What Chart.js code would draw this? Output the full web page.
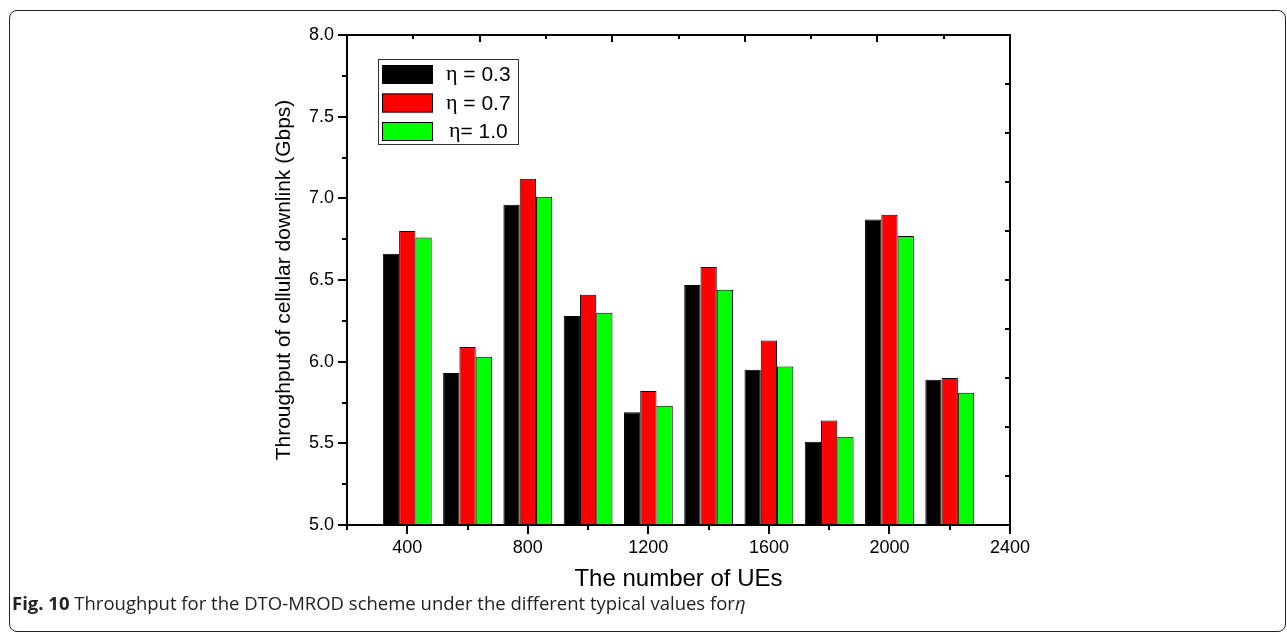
<!DOCTYPE html>
<html>
<head>
<meta charset="utf-8">
<script src="https://cdn.jsdelivr.net/npm/chart.js@4.4.0/dist/chart.umd.min.js"></script>
<style>
  html, body { margin: 0; padding: 0; background: #fff; }
  #fig { position: relative; width: 1287px; height: 634px; overflow: hidden; }
  #box {
    position: absolute; left: 9px; top: 10px; width: 1277px; height: 622px;
    border: 1.5px solid #222; border-radius: 8px; box-sizing: border-box;
  }
  #chartWrap { position: absolute; left: 0; top: 0; width: 1287px; height: 634px; }
  #caption {
    position: absolute; left: 12px; top: 590px;
    font-family: 'Open Sans', sans-serif; font-size: 18.5px; color: #222; white-space: nowrap;
  }
  #caption b { font-weight: 700; }
</style>
</head>
<body>
<div id="fig">
  <div id="box"></div>
  <div id="chartWrap"><canvas id="chart"></canvas></div>
  <div id="caption"><b>Fig. 10</b> Throughput for the DTO-MROD scheme under the different typical values for<i>η</i></div>
</div>
<script>
// number of UEs per group and downlink throughput (Gbps) for each eta
const ues = [400, 600, 800, 1000, 1200, 1400, 1600, 1800, 2000, 2200];
const eta03 = [6.66, 5.93, 6.96, 6.28, 5.69, 6.47, 5.95, 5.51, 6.87, 5.89];
const eta07 = [6.80, 6.09, 7.12, 6.41, 5.82, 6.58, 6.13, 5.64, 6.90, 5.90];
const eta10 = [6.76, 6.03, 7.01, 6.30, 5.73, 6.44, 5.97, 5.54, 6.77, 5.81];
const seriesLabels = ['η = 0.3', 'η = 0.7', 'η= 1.0'];
const seriesColors = ['#000000', '#ff0000', '#00ff00'];
const xTickLabels = [400, 800, 1200, 1600, 2000, 2400];
const yTickLabels = [5.0, 5.5, 6.0, 6.5, 7.0, 7.5, 8.0];

const toPoints = vals => ues.map((u, i) => ({ x: u, y: vals[i] }));

// box axes with Origin-style ticks on all four sides
const frame = {
  id: 'frame',
  afterDraw(chart) {
    const { ctx, chartArea: a, scales: { x, y } } = chart;
    ctx.save();
    ctx.strokeStyle = '#000';
    ctx.lineWidth = 2;
    ctx.strokeRect(a.left, a.top, a.right - a.left, a.bottom - a.top);
    const tick = (x1, y1, x2, y2) => {
      ctx.beginPath(); ctx.moveTo(x1, y1); ctx.lineTo(x2, y2); ctx.stroke();
    };
    for (let v = 200; v <= 2400; v += 200) {
      const px = Math.round(x.getPixelForValue(v));
      tick(px, a.bottom, px, a.bottom + (v % 400 === 0 ? 9 : 5));
    }
    for (let k = 0; k <= 12; k++) {
      const py = Math.round(y.getPixelForValue(5 + k * 0.25));
      tick(a.left, py, a.left - (k % 2 === 0 ? 9 : 5), py);
    }
    for (let k = 1; k < 10; k++) {
      const px = Math.round(x.getPixelForValue(200 + 220 * k));
      tick(px, a.top, px, a.top + (k % 2 === 0 ? 7 : 4));
      const py = Math.round(y.getPixelForValue(5 + 0.3 * k));
      tick(a.right, py, a.right - 5, py);
    }
    ctx.restore();
  }
};

// legend box in the upper left of the plot
const boxLegend = {
  id: 'boxLegend',
  afterDraw(chart) {
    const { ctx, chartArea: a } = chart;
    const bx = a.left + 31, by = a.top + 24;
    ctx.save();
    ctx.strokeStyle = '#333';
    ctx.lineWidth = 1;
    ctx.strokeRect(bx + 0.5, by + 0.5, 140, 85);
    chart.data.datasets.forEach((ds, i) => {
      const sy = by + 6 + i * 28.5;
      ctx.fillStyle = ds.backgroundColor;
      ctx.fillRect(bx + 4, sy, 51, 19);
      ctx.strokeStyle = '#000';
      ctx.strokeRect(bx + 4.5, sy + 0.5, 50, 18);
      const cy = sy + 10.5;
      ctx.fillStyle = '#000';
      ctx.textBaseline = 'middle';
      ctx.textAlign = 'left';
      const tx = bx + 68 + (i === 2 ? 3 : 0);
      ctx.font = '22px "Liberation Serif"';
      ctx.fillText(ds.label[0], tx, cy - 1);
      const w = ctx.measureText(ds.label[0]).width;
      ctx.font = '21px "Liberation Sans"';
      ctx.fillText(ds.label.slice(1), tx + w, cy);
    });
    ctx.restore();
  }
};

const tickFont = { family: 'Liberation Sans', size: 18 };
const titleFont = { family: 'Liberation Sans', size: 21 };

new Chart(document.getElementById('chart'), {
  type: 'bar',
  data: {
    datasets: [eta03, eta07, eta10].map((vals, i) => ({
      label: seriesLabels[i],
      data: toPoints(vals),
      backgroundColor: seriesColors[i],
      borderColor: '#000',
      borderWidth: 1,
      categoryPercentage: 0.81,
      barPercentage: 1.0
    }))
  },
  options: {
    responsive: true,
    maintainAspectRatio: false,
    animation: false,
    layout: { padding: { left: 272, right: 277, top: 35, bottom: 40 } },
    plugins: { legend: { display: false }, tooltip: { enabled: false } },
    scales: {
      x: {
        type: 'linear', min: 200, max: 2400, offset: false,
        grid: { display: false, drawTicks: false },
        border: { display: false },
        afterBuildTicks: s => { s.ticks = xTickLabels.map(v => ({ value: v })); },
        afterFit: s => { s.height = 69; },
        ticks: { font: tickFont, color: '#000', padding: 12, maxRotation: 0, autoSkip: false, callback: v => String(v) },
        title: { display: true, text: 'The number of UEs', font: { family: 'Liberation Sans', size: 24 }, color: '#000', padding: 0 }
      },
      y: {
        min: 5, max: 8,
        grid: { display: false, drawTicks: false },
        border: { display: false },
        afterBuildTicks: s => { s.ticks = yTickLabels.map(v => ({ value: v })); },
        afterFit: s => { s.width = 75; },
        ticks: { font: tickFont, color: '#000', padding: 13, autoSkip: false, callback: v => Number(v).toFixed(1) },
        title: { display: true, text: 'Throughput of cellular downlink (Gbps)', font: titleFont, color: '#000', padding: 0 }
      }
    }
  },
  plugins: [frame, boxLegend]
});
</script>
</body>
</html>
